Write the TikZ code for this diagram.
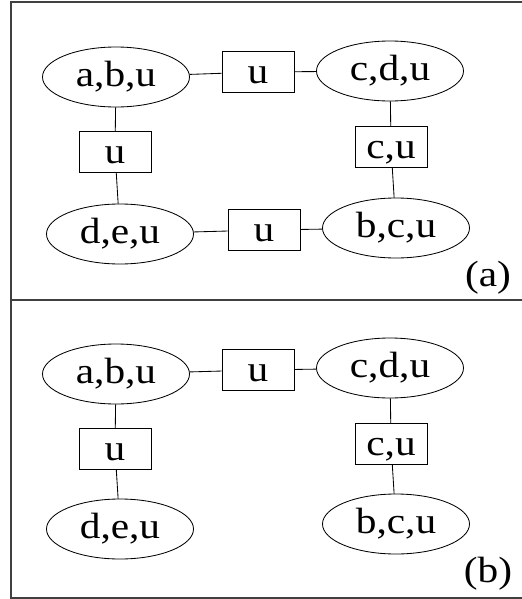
\documentclass[tikz,border=0pt]{standalone}
\usepackage{fontspec}
\setmainfont{Liberation Serif}[FakeStretch=1.13]
\usetikzlibrary{shapes.geometric}
\tikzset{
  clique/.style={ellipse,draw,line width=0.6pt,inner sep=0pt,minimum width=3.675cm,minimum height=1.5cm,font=\fontsize{26}{31}\selectfont},
  sepset/.style={rectangle,draw,line width=0.6pt,inner sep=0pt,minimum width=1.8cm,minimum height=1.025cm,text height=0.72cm,text depth=0.14cm,font=\fontsize{26}{31}\selectfont},
  link/.style={line width=0.6pt},
  frame/.style={line width=0.9pt,black!75}
}
\begin{document}
\begin{tikzpicture}
\useasboundingbox (0,0) rectangle (13.05,-14.975);
\draw[frame] (0.275,-0.05) rectangle (13.4,-14.95);
\draw[frame] (0.275,-7.5) -- (13.4,-7.5);

\node[clique] (abuA) at (2.9,-1.925) {a,b,u};
\node[sepset] (uA1) at (6.45,-1.8) {u};
\node[clique] (cduA) at (9.75,-1.775) {c,d,u};
\node[sepset] (uA2) at (2.875,-3.8) {u};
\node[sepset] (cuA) at (9.775,-3.675) {c,u};
\node[clique] (deuA) at (3.0,-5.85) {d,e,u};
\node[sepset] (uA3) at (6.6,-5.75) {u};
\node[clique] (bcuA) at (9.9,-5.7) {b,c,u};
\node[font=\fontsize{26}{31}\selectfont] (labA) at (12.2,-6.95) {(a)};
\draw[link] (abuA) -- (uA1);
\draw[link] (uA1) -- (cduA);
\draw[link] (abuA) -- (uA2);
\draw[link] (uA2) -- (deuA);
\draw[link] (cduA) -- (cuA);
\draw[link] (cuA) -- (bcuA);
\draw[link] (deuA) -- (uA3);
\draw[link] (uA3) -- (bcuA);

\node[clique] (abuB) at (2.9,-9.35) {a,b,u};
\node[sepset] (uB1) at (6.45,-9.25) {u};
\node[clique] (cduB) at (9.75,-9.2) {c,d,u};
\node[sepset] (uB2) at (2.875,-11.225) {u};
\node[sepset] (cuB) at (9.775,-11.1) {c,u};
\node[clique] (deuB) at (3.0,-13.225) {d,e,u};
\node[clique] (bcuB) at (9.9,-13.1) {b,c,u};
\node[font=\fontsize{26}{31}\selectfont] (labB) at (12.2,-14.35) {(b)};
\draw[link] (abuB) -- (uB1);
\draw[link] (uB1) -- (cduB);
\draw[link] (abuB) -- (uB2);
\draw[link] (uB2) -- (deuB);
\draw[link] (cduB) -- (cuB);
\draw[link] (cuB) -- (bcuB);
\end{tikzpicture}
\end{document}
